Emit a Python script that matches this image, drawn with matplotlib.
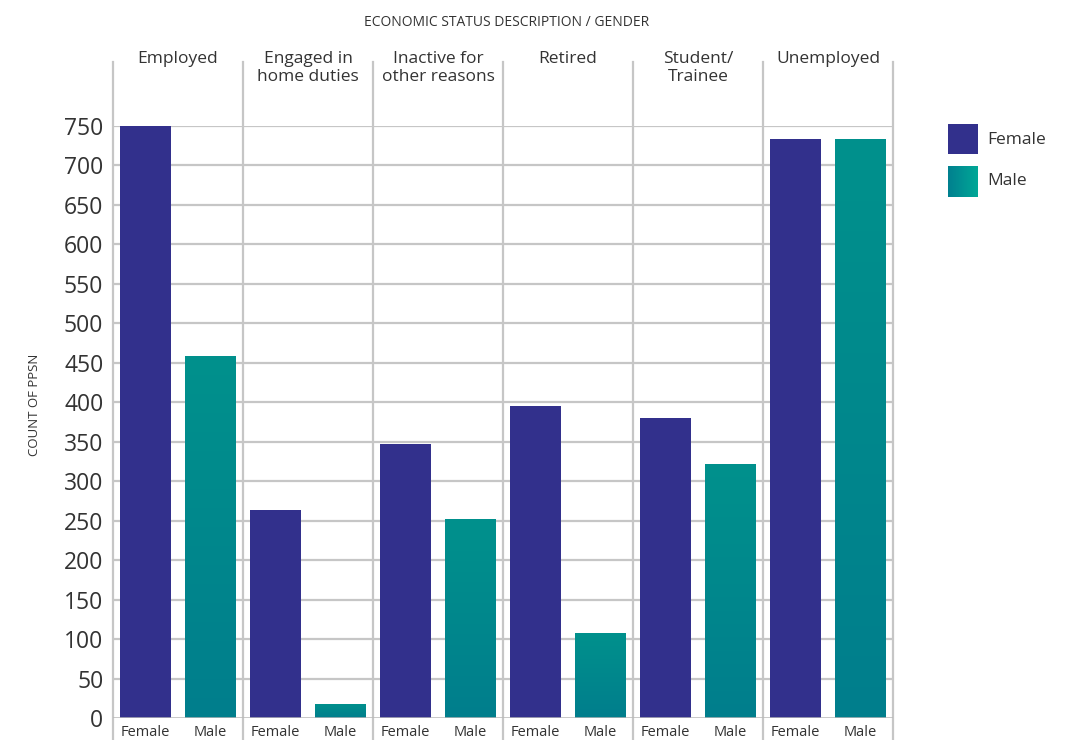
import numpy as np
import matplotlib
matplotlib.use("Agg")
import matplotlib.pyplot as plt
import matplotlib.transforms as mtransforms
from matplotlib.colors import LinearSegmentedColormap

categories = ["Employed", "Engaged in\nhome duties", "Inactive for\nother reasons",
              "Retired", "Student/\nTrainee", "Unemployed"]
female = [752, 264, 347, 395, 380, 734]
male = [459, 18, 252, 108, 322, 733]
yticks = list(range(0, 751, 50))
title = "ECONOMIC STATUS DESCRIPTION / GENDER"
ylabel = "COUNT OF PPSN"

FEMALE_C = "#32308c"
TEAL_TOP = "#00918d"
TEAL_BOT = "#007e8c"
TXT = "#333333"
GRID = "#c6c6c6"
FONT = "Open Sans"

plt.rcParams["font.family"] = [FONT, "DejaVu Sans"]

W, H = 1074, 740
fig = plt.figure(figsize=(W / 100, H / 100), dpi=100)

ax_left, ax_right, ax_top, ax_bot = 113, 893, 126, 718
ax = fig.add_axes([ax_left / W, (H - ax_bot) / H, (ax_right - ax_left) / W, (ax_bot - ax_top) / H])

n = len(categories)
x = np.arange(n)
bw = 0.385
off = 0.25

ax.set_xlim(-0.5, n - 0.5)
ax.set_ylim(0, 750)

# horizontal grid
for v in yticks[1:]:
    ax.axhline(v, color=GRID, lw=1.6, zorder=0)
ax.axhline(0, color="#b8b8b8", lw=1.8, zorder=3)

# female bars
ax.bar(x - off, female, width=bw, color=FEMALE_C, zorder=2)

# male bars with vertical gradient
cmap = LinearSegmentedColormap.from_list("teal", [TEAL_BOT, TEAL_TOP])
grad = np.linspace(0, 1, 256).reshape(-1, 1)
mbars = ax.bar(x + off, male, width=bw, color="none", zorder=2)
for b in mbars:
    x0, w_, h_ = b.get_x(), b.get_width(), b.get_height()
    im = ax.imshow(grad, cmap=cmap, origin="lower", aspect="auto",
                   extent=[x0, x0 + w_, 0, h_], zorder=2, interpolation="bicubic")
    im.set_clip_path(b)
ax.set_xlim(-0.5, n - 0.5)
ax.set_ylim(0, 750)

# vertical separators
trans = mtransforms.blended_transform_factory(ax.transData, ax.transAxes)
y_lo = (ax_bot - H) / (ax_bot - ax_top)
y_hi = (ax_bot - 62) / (ax_bot - ax_top)
for xs in np.arange(-0.5, n, 1.0):
    ax.plot([xs, xs], [y_lo, y_hi], color=GRID, lw=1.6, transform=trans,
            clip_on=False, zorder=1)

for s in ax.spines.values():
    s.set_visible(False)

ax.set_yticks(yticks)
ax.set_yticklabels([str(v) for v in yticks], fontsize=16.5, color=TXT)
ax.tick_params(axis="y", length=0, pad=7)
ax.set_xticks([])

# category headers
for i, c in enumerate(categories):
    ax.text(i, (ax_bot - 51) / (ax_bot - ax_top), c, transform=trans,
            ha="center", va="top", fontsize=12.5, color=TXT, linespacing=1.15)

# bottom gender labels
yb = (ax_bot - 732) / (ax_bot - ax_top)
for i in range(n):
    ax.text(i - off, yb, "Female", transform=trans, ha="center", va="center",
            fontsize=10.5, color=TXT, clip_on=False)
    ax.text(i + off, yb, "Male", transform=trans, ha="center", va="center",
            fontsize=10.5, color=TXT, clip_on=False)

fig.text(507 / W, 1 - 23 / H, title, ha="center", va="center", fontsize=10,
         color=TXT)
fig.text(35 / W, 1 - 405 / H, ylabel, ha="center", va="center", rotation=90,
         fontsize=9.5, color=TXT)

# legend
sw = fig.add_axes([948 / W, 1 - 154 / H, 30 / W, 30 / H])
sw.add_patch(plt.Rectangle((0, 0), 1, 1, color=FEMALE_C))
sw.set_xlim(0, 1); sw.set_ylim(0, 1); sw.axis("off")
sm = fig.add_axes([948 / W, 1 - 197 / H, 30 / W, 31 / H])
sm.imshow(np.linspace(0, 1, 64).reshape(1, -1), cmap=LinearSegmentedColormap.from_list(
    "lg", ["#00808f", "#00a897"]), aspect="auto", extent=[0, 1, 0, 1])
sm.axis("off")
fig.text(987 / W, 1 - 140 / H, "Female", ha="left", va="center", fontsize=12.5, color=TXT)
fig.text(987 / W, 1 - 181 / H, "Male", ha="left", va="center", fontsize=12.5, color=TXT)

fig.savefig("out.png", dpi=100)
